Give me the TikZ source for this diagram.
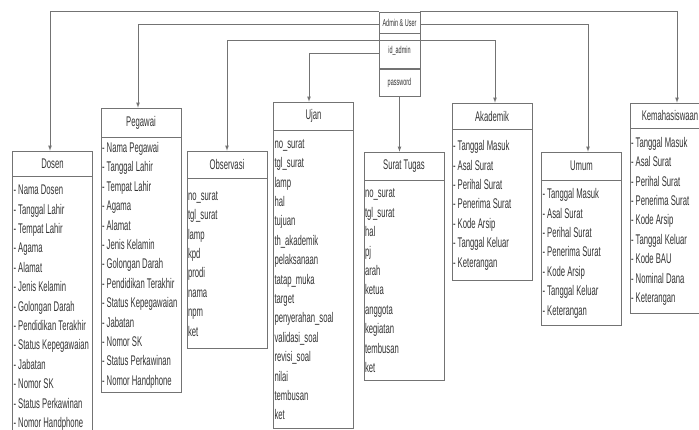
\documentclass[tikz,border=0pt]{standalone}
\usepackage{fontspec}
\setmainfont[FakeStretch=0.55]{Liberation Sans}
\usepackage{tikz}
\usetikzlibrary{positioning}
\tikzset{>=latex}
\hyphenpenalty=10000

\tikzset{
  box/.style={draw=black!55, line width=0.7pt, text=black!80},
  title/.style={box, minimum width=80pt, inner sep=0pt, font=\fontsize{14}{16}\selectfont},
  body/.style={box, text width=78pt, inner xsep=1pt, inner ysep=0pt, align=flush left, font=\fontsize{14}{19.4}\selectfont},
  admin/.style={box, minimum width=41pt, inner sep=0pt, font=\fontsize{10}{12}\selectfont},
  link/.style={draw=black!55, line width=0.7pt, ->}
}

\begin{document}
\begin{tikzpicture}[x=1pt,y=-1pt]
  \clip (0,0) rectangle (699,430);

  % admin table
  \node[admin, minimum height=21pt] (adminA) at (399.5,22.5) {Admin \& User};
  \node[admin, minimum height=35pt, below=0pt of adminA] (adminB) {id\_admin};
  \node[admin, minimum height=27pt, below=0pt of adminB] (adminC) {password};

  % tables
  \node[title, minimum height=25pt] (dosen) at (52.5,163.5) {Dosen};
  \node[body, minimum height=262pt, below=0pt of dosen] (dosenB) {- Nama Dosen\\- Tanggal Lahir\\- Tempat Lahir\\- Agama\\- Alamat\\- Jenis Kelamin\\- Golongan Darah\\- Pendidikan Terakhir\\- Status Kepegawaian\\- Jabatan\\- Nomor SK\\- Status Perkawinan\\- Nomor Handphone};

  \node[title, minimum height=29pt] (pegawai) at (141,122.5) {Pegawai};
  \node[body, minimum height=255pt, below=0pt of pegawai] (pegawaiB) {- Nama Pegawai\\- Tanggal Lahir\\- Tempat Lahir\\- Agama\\- Alamat\\- Jenis Kelamin\\- Golongan Darah\\- Pendidikan Terakhir\\- Status Kepegawaian\\- Jabatan\\- Nomor SK\\- Status Perkawinan\\- Nomor Handphone};

  \node[title, minimum height=27pt] (obs) at (227,164.5) {Observasi};
  \node[body, minimum height=170pt, below=0pt of obs] (obsB) {no\_surat\\tgl\_surat\\lamp\\kpd\\prodi\\nama\\npm\\ket};

  \node[title, minimum height=28pt] (ujan) at (313.5,116) {Ujan};
  \node[body, minimum height=298pt, below=0pt of ujan] (ujanB) {no\_surat\\tgl\_surat\\lamp\\hal\\tujuan\\th\_akademik\\pelaksanaan\\tatap\_muka\\target\\penyerahan\_soal\\validasi\_soal\\revisi\_soal\\nilai\\tembusan\\ket};

  \node[title, minimum height=28pt] (surat) at (404,166) {Surat Tugas};
  \node[body, minimum height=200pt, below=0pt of surat] (suratB) {no\_surat\\tgl\_surat\\hal\\pj\\arah\\ketua\\anggota\\kegiatan\\tembusan\\ket};

  \node[title, minimum height=26pt] (akad) at (492,116) {Akademik};
  \node[body, minimum height=151pt, below=0pt of akad] (akadB) {- Tanggal Masuk\\- Asal Surat\\- Perihal Surat\\- Penerima Surat\\- Kode Arsip\\- Tanggal Keluar\\- Keterangan};

  \node[title, minimum height=28pt] (umum) at (581.5,166) {Umum};
  \node[body, minimum height=145pt, below=0pt of umum] (umumB) {- Tanggal Masuk\\- Asal Surat\\- Perihal Surat\\- Penerima Surat\\- Kode Arsip\\- Tanggal Keluar\\- Keterangan};

  \node[title, minimum height=25pt] (kem) at (670,115.5) {Kemahasiswaan};
  \node[body, minimum height=185pt, below=0pt of kem] (kemB) {- Tanggal Masuk\\- Asal Surat\\- Perihal Surat\\- Penerima Surat\\- Kode Arsip\\- Tanggal Keluar\\- Kode BAU\\- Nominal Dana\\- Keterangan};

  % relations
  \coordinate (cross) at ([yshift=-7pt]adminB.north);
  \draw[link] (adminA.north west) -| ([xshift=-2.5pt]dosen.north);
  \draw[link] (adminA.north east) -| ([xshift=7pt]kem.north);
  \draw[link] ([yshift=-2pt]adminA.west) -| ([xshift=-3pt]pegawai.north);
  \draw[link] ([yshift=-2pt]adminA.east) -| ([xshift=6.5pt]umum.north);
  \draw[link] (cross) -| (obs.north);
  \draw[link] (cross) -| ([xshift=3pt]akad.north);
  \draw[link] ([yshift=-2.5pt]adminB.west) -| ([xshift=-4.5pt]ujan.north);
  \draw[link] (adminC.south) -- (adminC.south |- surat.north);

\end{tikzpicture}
\end{document}
